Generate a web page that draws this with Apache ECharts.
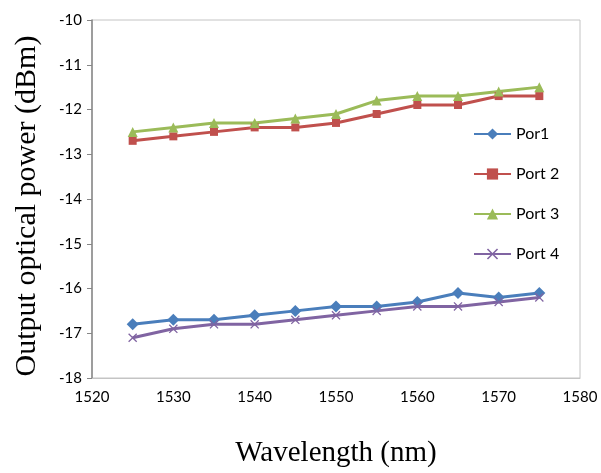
<!DOCTYPE html>
<html>
<head>
<meta charset="utf-8">
<script src="https://cdn.jsdelivr.net/npm/echarts@6/dist/echarts.min.js"></script>
<style>
  html, body { margin: 0; padding: 0; background: #fff; }
  #chart { width: 601px; height: 473px; }
</style>
</head>
<body>
<div id="chart"></div>
<script>

// wavelength (nm)
var wavelengths = [1525, 1530, 1535, 1540, 1545, 1550, 1555, 1560, 1565, 1570, 1575];

// output power per port (dBm)
var port1 = [-16.8, -16.7, -16.7, -16.6, -16.5, -16.4, -16.4, -16.3, -16.1, -16.2, -16.1];
var port2 = [-12.7, -12.6, -12.5, -12.4, -12.4, -12.3, -12.1, -11.9, -11.9, -11.7, -11.7];
var port3 = [-12.5, -12.4, -12.3, -12.3, -12.2, -12.1, -11.8, -11.7, -11.7, -11.6, -11.5];
var port4 = [-17.1, -16.9, -16.8, -16.8, -16.7, -16.6, -16.5, -16.4, -16.4, -16.3, -16.2];

var seriesNames = ['Por1', 'Port 2', 'Port 3', 'Port 4'];

function pairs(values) {
    var out = [];
    for (var i = 0; i < wavelengths.length; i++) {
        out.push([wavelengths[i], values[i]]);
    }
    return out;
}

var crossPath = 'path://M0,1L1,0L5,4L9,0L10,1L6,5L10,9L9,10L5,6L1,10L0,9L4,5Z';

function makeSeries(name, values, color, symbol, size) {
    return {
        name: name,
        type: 'line',
        data: pairs(values),
        symbol: symbol,
        symbolSize: size,
        showAllSymbol: true,
        lineStyle: { color: color, width: 3 },
        itemStyle: { color: color },
        emphasis: { disabled: true },
        z: 2
    };
}

var chart = echarts.init(document.getElementById('chart'));

var option = {
    animation: false,
    backgroundColor: '#ffffff',
    grid: {
        left: 92,
        right: 21,
        top: 20,
        bottom: 93,
        show: true,
        borderColor: '#c4c4c4',
        borderWidth: 1
    },
    legend: {
        data: seriesNames,
        orient: 'vertical',
        left: 468,
        top: 121,
        itemWidth: 37,
        itemHeight: 14,
        itemGap: 24,
        textStyle: { fontFamily: 'Lato', fontSize: 16, color: '#000' }
    },
    xAxis: {
        type: 'value',
        min: 1520,
        max: 1580,
        interval: 10,
        name: 'Wavelength (nm)',
        nameLocation: 'middle',
        nameGap: 61,
        nameTextStyle: { fontFamily: 'Liberation Serif', fontSize: 29, color: '#000' },
        axisLine: { show: true, lineStyle: { color: '#c4c4c4', width: 1 } },
        axisTick: { show: false },
        splitLine: { show: false },
        axisLabel: {
            fontFamily: 'Lato', fontSize: 15, color: '#000', margin: 12,
            formatter: function (v) { return String(v); }
        }
    },
    yAxis: {
        type: 'value',
        min: -18,
        max: -10,
        interval: 1,
        name: 'Output optical power (dBm)',
        nameLocation: 'middle',
        nameGap: 50,
        nameTextStyle: { fontFamily: 'Liberation Serif', fontSize: 30, color: '#000', padding: [0, 14, 0, 0] },
        axisLine: { show: true, lineStyle: { color: '#868686', width: 1.5 } },
        axisTick: { show: true, inside: false, length: 5, lineStyle: { color: '#868686' } },
        splitLine: { show: false },
        axisLabel: { fontFamily: 'Lato', fontSize: 15, color: '#000', margin: 10 }
    },
    series: [
        makeSeries(seriesNames[0], port1, '#4a7ebb', 'diamond', 12),
        makeSeries(seriesNames[1], port2, '#c0504d', 'rect', 8),
        makeSeries(seriesNames[2], port3, '#9bbb59', 'triangle', 10),
        makeSeries(seriesNames[3], port4, '#8064a2', crossPath, 9)
    ]
};

chart.setOption(option);

</script>
</body>
</html>
